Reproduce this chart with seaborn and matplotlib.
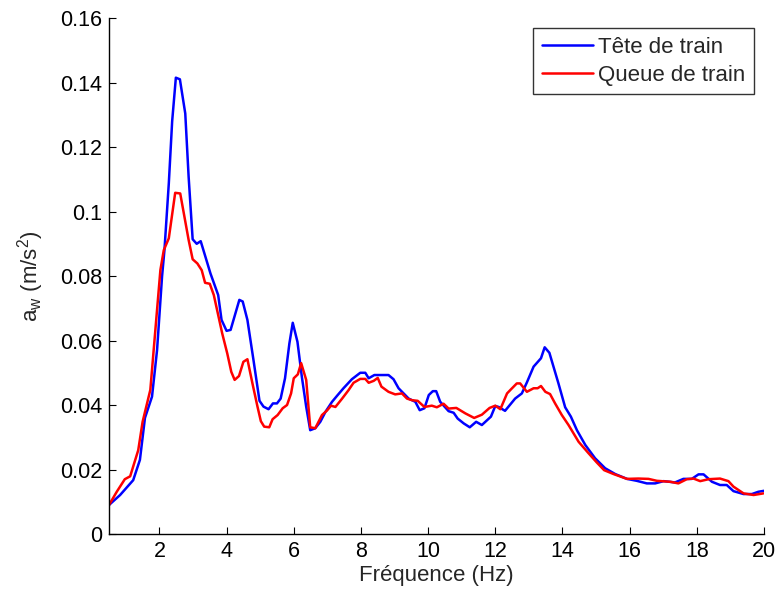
import pandas as pd
import seaborn as sns
import matplotlib.pyplot as plt

# Tête de train (courbe bleue)
freq_tete = [0.5, 0.83, 1.22, 1.42, 1.57, 1.78, 1.93, 2.08, 2.15, 2.28, 2.38, 2.49, 2.61, 2.77, 2.87,
             2.99, 3.11, 3.23, 3.52, 3.75, 3.85, 4.0, 4.12, 4.38, 4.48, 4.62, 4.8, 4.98, 5.1, 5.25,
             5.38, 5.5, 5.61, 5.74, 5.87, 5.97, 6.11, 6.24, 6.37, 6.49, 6.64, 6.79, 6.95, 7.14, 7.3,
             7.48, 7.73, 7.98, 8.13, 8.23, 8.4, 8.82, 8.97, 9.12, 9.27, 9.42, 9.62, 9.75, 9.89, 10.02,
             10.14, 10.24, 10.36, 10.61, 10.76, 10.88, 11.06, 11.24, 11.43, 11.6, 11.87, 12.0, 12.1,
             12.29, 12.59, 12.79, 12.94, 13.14, 13.36, 13.47, 13.61, 13.88, 14.08, 14.25, 14.43,
             14.68, 14.97, 15.27, 15.57, 15.92, 16.21, 16.51, 16.76, 17.01, 17.35, 17.6, 17.85,
             18.05, 18.2, 18.45, 18.69, 18.89, 19.09, 19.39, 19.64, 19.83, 20.0]
aw_tete = [0.009, 0.0121, 0.0167, 0.023, 0.036, 0.0426, 0.057, 0.080, 0.088, 0.1087, 0.128, 0.1415,
           0.141, 0.1304, 0.1108, 0.0914, 0.090, 0.0908, 0.0808, 0.0741, 0.0664, 0.063, 0.0633,
           0.0726, 0.0721, 0.0664, 0.054, 0.0413, 0.0395, 0.0387, 0.0405, 0.0405, 0.042, 0.0483,
           0.0591, 0.0655, 0.0596, 0.0488, 0.0395, 0.0322, 0.0328, 0.0348, 0.038, 0.041, 0.043,
           0.0452, 0.048, 0.050, 0.050, 0.0483, 0.0493, 0.0493, 0.048, 0.0452, 0.0436, 0.042,
           0.041, 0.0384, 0.039, 0.0431, 0.0443, 0.0443, 0.041, 0.0381, 0.0376, 0.0358, 0.0343,
           0.0331, 0.0348, 0.0338, 0.0364, 0.0397, 0.0394, 0.0382, 0.042, 0.0436, 0.047, 0.0519,
           0.0545, 0.0579, 0.0562, 0.0467, 0.0393, 0.0364, 0.0322, 0.0276, 0.0235, 0.0204, 0.0186,
           0.0171, 0.0165, 0.0157, 0.0157, 0.0164, 0.016, 0.0171, 0.0171, 0.0185, 0.0185, 0.0162,
           0.0152, 0.0152, 0.0133, 0.0124, 0.0124, 0.0131, 0.0134]

# Queue de train (courbe rouge)
freq_queue = [0.5, 0.73, 0.97, 1.13, 1.37, 1.5, 1.73, 1.88, 2.03, 2.13, 2.28, 2.47, 2.62, 2.87, 2.99,
              3.13, 3.26, 3.36, 3.5, 3.62, 3.87, 4.02, 4.14, 4.24, 4.37, 4.5, 4.62, 4.77, 4.92, 5.02,
              5.12, 5.27, 5.37, 5.52, 5.67, 5.8, 5.92, 6.0, 6.12, 6.22, 6.37, 6.49, 6.64, 6.84, 6.99,
              7.11, 7.24, 7.44, 7.63, 7.78, 7.98, 8.13, 8.23, 8.38, 8.5, 8.61, 8.82, 9.02, 9.22, 9.37,
              9.52, 9.69, 9.89, 10.11, 10.26, 10.46, 10.61, 10.84, 11.11, 11.37, 11.6, 11.83, 12.0,
              12.15, 12.35, 12.47, 12.64, 12.74, 12.94, 13.14, 13.26, 13.36, 13.49, 13.63, 13.78,
              13.98, 14.18, 14.48, 14.78, 15.02, 15.24, 15.52, 15.92, 16.26, 16.56, 16.81, 17.21,
              17.45, 17.7, 17.9, 18.1, 18.35, 18.69, 18.94, 19.09, 19.39, 19.69, 19.98]
aw_queue = [0.009, 0.0131, 0.017, 0.0179, 0.026, 0.0348, 0.0447, 0.0633, 0.0819, 0.088, 0.0917,
            0.1058, 0.1056, 0.0912, 0.0852, 0.0839, 0.0818, 0.0779, 0.0776, 0.0741, 0.0622, 0.056,
            0.0503, 0.0478, 0.049, 0.0534, 0.0542, 0.0467, 0.0395, 0.035, 0.0333, 0.0331, 0.0356,
            0.0369, 0.039, 0.040, 0.0436, 0.0483, 0.0495, 0.053, 0.0478, 0.0331, 0.0328, 0.0369,
            0.0383, 0.0398, 0.0394, 0.042, 0.0446, 0.0469, 0.0481, 0.0481, 0.0469, 0.0475, 0.0484,
            0.0457, 0.0441, 0.0433, 0.0436, 0.042, 0.0415, 0.0413, 0.0394, 0.0398, 0.0393, 0.0404,
            0.0389, 0.0391, 0.0374, 0.036, 0.037, 0.0391, 0.0398, 0.0387, 0.0436, 0.0449, 0.0467,
            0.0467, 0.0441, 0.0452, 0.0452, 0.0459, 0.0441, 0.0434, 0.0405, 0.0369, 0.0338, 0.0286,
            0.025, 0.0222, 0.0198, 0.0186, 0.0171, 0.0172, 0.0171, 0.0165, 0.0162, 0.0157, 0.017,
            0.0172, 0.0164, 0.017, 0.0172, 0.0164, 0.0147, 0.0126, 0.0121, 0.0126]

series = ['Tête de train', 'Queue de train']
couleurs = ['#0000ff', '#ff0000']
xticks = [2, 4, 6, 8, 10, 12, 14, 16, 18, 20]
yticks = [0, 0.02, 0.04, 0.06, 0.08, 0.1, 0.12, 0.14, 0.16]
ytick_labels = ['0', '0.02', '0.04', '0.06', '0.08', '0.1', '0.12', '0.14', '0.16']

datos = pd.concat([
    pd.DataFrame({'f': freq_tete, 'aw': aw_tete, 'serie': series[0]}),
    pd.DataFrame({'f': freq_queue, 'aw': aw_queue, 'serie': series[1]}),
])

sns.set_style('white')
plt.rcParams['font.family'] = ['Liberation Sans', 'DejaVu Sans']
plt.rcParams['mathtext.default'] = 'regular'

fig = plt.figure(figsize=(7.77, 5.91), dpi=100)
ax = fig.add_axes([0.1403, 0.0964, 0.843, 0.8731])

sns.lineplot(data=datos, x='f', y='aw', hue='serie', hue_order=series,
             palette=couleurs, estimator=None, linewidth=1.8, ax=ax)

ax.set_xlim(0.5, 20)
ax.set_ylim(0, 0.16)
ax.set_xticks(xticks)
ax.set_xticklabels([str(t) for t in xticks])
ax.set_yticks(yticks)
ax.set_yticklabels(ytick_labels)
ax.tick_params(direction='in', length=5, width=0.8, labelsize=15.5, colors='black', pad=5,
               bottom=True, left=True)
for lado in ['top', 'right']:
    ax.spines[lado].set_visible(False)
for lado in ['left', 'bottom']:
    ax.spines[lado].set_color('black')
    ax.spines[lado].set_linewidth(1.0)

ax.set_xlabel('Fréquence (Hz)', fontsize=16, labelpad=2)
ax.set_ylabel('a$_w$ (m/s$^2$)', fontsize=16, labelpad=10)

leg = ax.legend(loc='upper right', fontsize=16, frameon=True, fancybox=False,
                handlelength=2.3, handletextpad=0.2, labelspacing=0.3,
                borderpad=0.4, borderaxespad=0.45)
leg.get_frame().set_edgecolor('black')
leg.get_frame().set_linewidth(1.0)
for linea in leg.get_lines():
    linea.set_linewidth(1.8)

fig.savefig('out.png', dpi=100)
